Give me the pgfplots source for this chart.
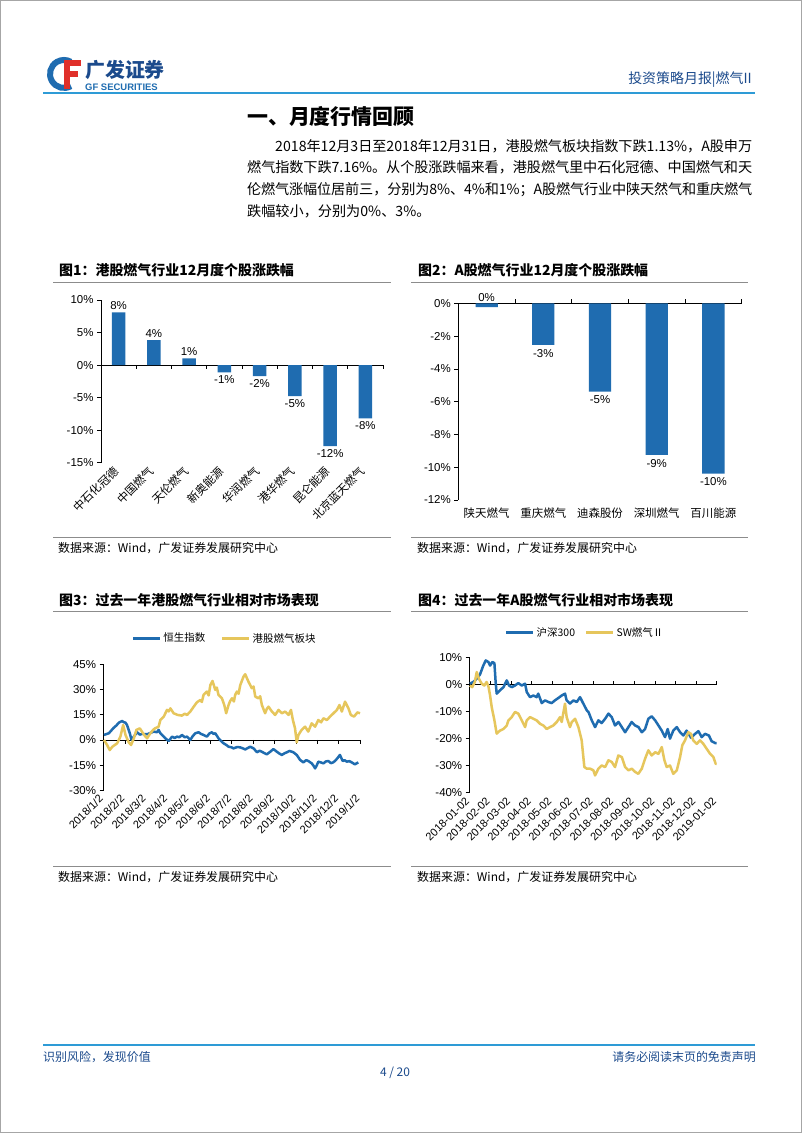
\documentclass[border=0pt]{standalone}
\usepackage{fontspec}
\usepackage{pgfplots}
\pgfplotsset{compat=1.18}
\setmainfont{Liberation Sans}
\newfontfamily\cjk{Noto Sans CJK SC}
\definecolor{gfblue}{HTML}{1F6CB0}
\definecolor{gfyellow}{HTML}{E6C65C}
\definecolor{navy}{HTML}{1B4A8C}
\definecolor{lineblue}{HTML}{2E9BD6}
\definecolor{rulegray}{HTML}{8C8C8C}
\definecolor{logored}{HTML}{E0302A}
\newcommand\fs[1]{\fontsize{#1}{#1}\selectfont}
\XeTeXlinebreaklocale "zh"
\XeTeXlinebreakskip=0pt plus 1.5pt minus 0.3pt

\pgfplotsset{
  gfbase/.style={
    scale only axis, anchor=south west, clip=false,
    axis line style={draw=none},
    ytick pos=left, xtick pos=bottom,
    tick align=outside, major tick length=4bp,
    tick style={black, line width=0.7bp},
    major x tick style={draw=none},
    yticklabel style={font=\fs{11.5}, text=black},
  },
}

\begin{document}
\begin{tikzpicture}
\begin{scope}[x=1bp,y=-1bp]
\useasboundingbox (0,0) rectangle (802,1133);
\fill[white] (0,0) rectangle (802,1133);
\draw[gray!70, line width=1bp] (0.5,0.5) rectangle (801.5,1132.5);
% logo
\draw[gfblue, line width=6bp] (71,86.1) arc[start angle=60, end angle=300, radius=14];
\fill[logored] (64,60) rectangle (81,66);
\fill[logored] (64,71) rectangle (78,77);
\fill[logored] (64,60) rectangle (70,89);
\node[anchor=west, inner sep=0, text=navy] at (85,70) {\cjk\bfseries\fs{20}广发证券};
\node[anchor=west, inner sep=0, text=gfblue] at (85,87) {\bfseries\fs{9.5}GF SECURITIES};
\node[anchor=east, inner sep=0, text=navy] at (752,80) {\cjk\fs{14}投资策略月报|燃气II};
\draw[lineblue, line width=2bp] (43,93) -- (755,93);
% heading
\node[anchor=west, inner sep=0] at (247,117) {\cjk\bfseries\fs{21}一、月度行情回顾};
\node[anchor=north west, inner sep=0, text width=505bp, align=justify,
  font=\cjk\fontsize{14.2}{21.7}\selectfont] at (247,139)
{\hspace*{28bp}2018年12月3日至2018年12月31日，港股燃气板块指数下跌1.13\%，A股申万\linebreak
燃气指数下跌7.16\%。从个股涨跌幅来看，港股燃气里中石化冠德、中国燃气和天\linebreak
伦燃气涨幅位居前三，分别为8\%、4\%和1\%；A股燃气行业中陕天然气和重庆燃气\linebreak
跌幅较小，分别为0\%、3\%。\par};
% chart titles
\node[anchor=west, inner sep=0] at (59,270) {\cjk\bfseries\fs{14}图1：港股燃气行业12月度个股涨跌幅};
\node[anchor=west, inner sep=0] at (418,270) {\cjk\bfseries\fs{14}图2：A股燃气行业12月度个股涨跌幅};
\draw[rulegray, line width=1bp] (53,282) -- (391,282);
\draw[rulegray, line width=1bp] (411,282) -- (748,282);
\draw[rulegray, line width=1bp] (53,537) -- (391,537);
\draw[rulegray, line width=1bp] (411,537) -- (748,537);
\node[anchor=west, inner sep=0] at (58,548) {\cjk\fs{12}数据来源：Wind，广发证券发展研究中心};
\node[anchor=west, inner sep=0] at (417,548) {\cjk\fs{12}数据来源：Wind，广发证券发展研究中心};
\node[anchor=west, inner sep=0] at (59,600) {\cjk\bfseries\fs{14}图3：过去一年港股燃气行业相对市场表现};
\node[anchor=west, inner sep=0] at (418,600) {\cjk\bfseries\fs{14}图4：过去一年A股燃气行业相对市场表现};
\draw[rulegray, line width=1bp] (53,611) -- (391,611);
\draw[rulegray, line width=1bp] (411,611) -- (748,611);
\draw[rulegray, line width=1bp] (53,866) -- (391,866);
\draw[rulegray, line width=1bp] (411,866) -- (748,866);
\node[anchor=west, inner sep=0] at (58,877) {\cjk\fs{12}数据来源：Wind，广发证券发展研究中心};
\node[anchor=west, inner sep=0] at (417,877) {\cjk\fs{12}数据来源：Wind，广发证券发展研究中心};
% footer
\draw[lineblue, line width=1.5bp] (43,1045) -- (755,1045);
\node[anchor=west, inner sep=0, text=navy] at (43,1057) {\cjk\fs{12}识别风险，发现价值};
\node[anchor=east, inner sep=0, text=navy] at (756,1057) {\cjk\fs{12}请务必阅读末页的免责声明};
\node[inner sep=0, text=navy] at (395,1073) {\cjk\fs{12}4 / 20};
\end{scope}

% ---------- Chart 1 ----------
\begin{axis}[gfbase,
  at={(101bp,-462.7bp)}, width=282bp, height=162.7bp,
  xmin=-0.5, xmax=7.5, ymin=-15, ymax=10,
  ytick={-15,-10,-5,0,5,10},
  yticklabels={-15\%,-10\%,-5\%,0\%,5\%,10\%},
  xtick={0,...,7},
  xticklabels={中石化冠德,中国燃气,天伦燃气,新奥能源,华润燃气,港华燃气,昆仑能源,北京蓝天燃气},
  xticklabel style={font=\cjk\fs{11.5}, rotate=45, anchor=east, text=black},
]
\draw[black, line width=0.7bp] (axis cs:-0.5,-15) -- (axis cs:-0.5,10);
\draw[black, line width=0.7bp] (axis cs:-0.5,0) -- (axis cs:7.5,0);
\pgfplotsinvokeforeach{0.5,1.5,2.5,3.5,4.5,5.5,6.5,7.5}{\draw[black, line width=0.7bp] (axis cs:#1,0) -- ([yshift=-4bp]axis cs:#1,0);}
\addplot[ybar, bar width=13.3bp, fill=gfblue, draw=none,
  nodes near coords={\pgfplotspointmeta\%},
  point meta=explicit symbolic,
  nodes near coords style={font=\fs{11.5}, text=black, anchor=south, inner sep=2.5bp}]
  table[x=x, y=y, meta=l] {
x y l
0 8.1 8
1 3.85 4
2 1.03 1
};
\addplot[ybar, bar width=13.3bp, fill=gfblue, draw=none,
  nodes near coords={\pgfplotspointmeta\%},
  point meta=explicit symbolic,
  nodes near coords style={font=\fs{11.5}, text=black, anchor=north, inner sep=3bp}]
  table[x=x, y=y, meta=l] {
x y l
3 -1.13 -1
4 -1.7 -2
5 -4.77 -5
6 -12.46 -12
7 -8.2 -8
};
\end{axis}

% ---------- Chart 2 ----------
\begin{axis}[gfbase,
  at={(458.3bp,-500bp)}, width=283.4bp, height=196.7bp,
  xmin=-0.5, xmax=4.5, ymin=-12, ymax=0,
  ytick={-12,-10,-8,-6,-4,-2,0},
  yticklabels={-12\%,-10\%,-8\%,-6\%,-4\%,-2\%,0\%},
  xtick={0,...,4},
  xticklabels={陕天燃气,重庆燃气,迪森股份,深圳燃气,百川能源},
  xticklabel style={font=\cjk\fs{11.5}, anchor=north, text=black},
]
\draw[black, line width=0.7bp] (axis cs:-0.5,-12) -- (axis cs:-0.5,0);
\draw[black, line width=0.7bp] (axis cs:-0.5,0) -- (axis cs:4.5,0);
\pgfplotsinvokeforeach{0.5,1.5,2.5,3.5,4.5}{\draw[black, line width=0.7bp] (axis cs:#1,0) -- ([yshift=4bp]axis cs:#1,0);}
\addplot[ybar, bar width=22.3bp, fill=gfblue, draw=none,
  nodes near coords={\pgfplotspointmeta},
  point meta=explicit symbolic,
  nodes near coords style={font=\fs{11.5}, text=black, anchor=north, inner sep=4bp}]
  table[x=x, y=y, meta=l] {
x y l
0 -0.24 {}
1 -2.54 -3\%
2 -5.39 -5\%
3 -9.25 -9\%
4 -10.39 -10\%
};
\node[anchor=south, font=\fs{11.5}, inner sep=2pt] at (axis cs:0,0) {0\%};
\end{axis}

% ---------- Chart 3 ----------
\begin{axis}[gfbase,
  at={(103.5bp,-790.4bp)}, width=256.5bp, height=126.1bp,
  xmin=0, xmax=12, ymin=-30, ymax=45,
  ytick={-30,-15,0,15,30,45},
  yticklabels={-30\%,-15\%,0\%,15\%,30\%,45\%},
  xtick={0,...,12},
  xticklabels={2018/1/2,2018/2/2,2018/3/2,2018/4/2,2018/5/2,2018/6/2,2018/7/2,2018/8/2,2018/9/2,2018/10/2,2018/11/2,2018/12/2,2019/1/2},
  xticklabel style={font=\fs{11}, rotate=45, anchor=east, text=black},
  legend columns=2,
  legend style={draw=none, fill=none, at={(0.11,1.206)}, anchor=west, font=\cjk\fs{10.5}, inner sep=0pt,
    /tikz/every even column/.append style={column sep=14bp}},
  legend image code/.code={\draw[#1] (0bp,0bp) -- (27bp,0bp);},
]
\draw[black, line width=0.7bp] (axis cs:0,-30) -- (axis cs:0,45);
\draw[black, line width=0.7bp] (axis cs:0,0) -- (axis cs:12,0);
\pgfplotsinvokeforeach{1,2,3,4,5,6,7,8,9,10,11,12}{\draw[black, line width=0.7bp] (axis cs:#1,0) -- ([yshift=-4bp]axis cs:#1,0);}
\addplot[gfblue, line width=2.5bp, line join=round] coordinates {
(0.02,3.0)(0.25,4.0)(0.48,7.3)(0.60,8.6)(0.72,10.3)(0.87,11.3)(0.95,10.6)(1.03,10.3)(1.10,8.9)(1.23,4.0)(1.31,0)(1.42,2.0)(1.57,4.6)(1.70,3.2)(1.81,3.6)(2.04,3.4)(2.20,4.2)(2.35,5.0)(2.50,4.6)(2.58,6.0)(2.66,4.0)(2.78,2.5)(2.89,1.0)(3.05,-0.6)(3.21,2.0)(3.33,1.2)(3.44,2.0)(3.55,1.6)(3.67,3.0)(3.80,1.6)(3.91,2.0)(4.06,0)(4.18,2.4)(4.30,4.0)(4.45,4.6)(4.56,3.6)(4.68,3.0)(4.84,2.0)(4.95,3.8)(5.07,4.6)(5.15,3.6)(5.23,4.0)(5.38,1.0)(5.50,-0.6)(5.62,-2.0)(5.75,-3.0)(5.85,-4.0)(6.00,-4.4)(6.08,-5.0)(6.25,-4.2)(6.40,-4.4)(6.52,-5.0)(6.63,-5.6)(6.75,-4.8)(6.86,-4.0)(7.02,-5)(7.18,-7.3)(7.30,-6.4)(7.41,-7)(7.52,-7.8)(7.64,-8.5)(7.80,-7)(7.95,-5.4)(8.11,-7)(8.22,-8.0)(8.34,-8.9)(8.50,-7.7)(8.60,-7.2)(8.70,-6.5)(8.88,-7.3)(9.04,-8.9)(9.20,-11.9)(9.35,-13.3)(9.48,-12.0)(9.58,-12.5)(9.74,-13.9)(9.82,-15.2)(9.90,-16.9)(9.98,-15.0)(10.05,-12.9)(10.18,-13.4)(10.29,-13.9)(10.40,-12.8)(10.52,-12.5)(10.64,-13.8)(10.75,-13.3)(10.85,-12.2)(10.94,-10.9)(11.06,-8.9)(11.19,-12.5)(11.28,-12.0)(11.38,-12.9)(11.50,-12.6)(11.61,-13.3)(11.76,-14.5)(11.92,-13.3)
};
\addlegendentry{恒生指数}
\addplot[gfyellow, line width=2.5bp, line join=round] coordinates {
(0.02,0)(0.17,-3)(0.29,-6)(0.40,-4.2)(0.48,-3.4)(0.64,-2)(0.79,2)(0.92,8.9)(1.03,3)(1.18,-1.4)(1.29,-3)(1.42,1)(1.54,6)(1.70,6.9)(1.85,4)(1.95,2.2)(2.04,1)(2.19,4)(2.32,6)(2.42,7)(2.58,7.9)(2.66,11.9)(2.82,13.9)(2.97,17.9)(3.05,17.0)(3.13,18.8)(3.28,15.9)(3.47,14.9)(3.67,14.5)(3.80,15.6)(3.91,14.9)(4.06,16.9)(4.22,19.8)(4.37,22.4)(4.53,23.8)(4.60,22.6)(4.68,26.8)(4.84,28.8)(4.92,26.5)(5.0,32.7)(5.10,35.1)(5.23,29.8)(5.30,31.2)(5.38,26.8)(5.54,24.8)(5.65,20.8)(5.74,15.9)(5.85,20.8)(5.92,23.0)(6.01,24.8)(6.10,22.9)(6.16,26.8)(6.24,28.8)(6.32,27.5)(6.40,32.7)(6.55,37.7)(6.63,39.1)(6.78,34.7)(6.94,30.8)(7.02,31.8)(7.10,25.8)(7.25,24.8)(7.33,26.0)(7.41,20.8)(7.56,15.9)(7.64,18.5)(7.72,19.8)(7.88,16.9)(8.03,14.9)(8.19,17.9)(8.34,15.9)(8.50,16.9)(8.66,14.9)(8.77,17.9)(8.86,11.9)(8.96,6.9)(9.04,-1.4)(9.12,3)(9.27,6)(9.43,7.9)(9.58,5)(9.74,9.9)(9.90,7.9)(10.05,11.9)(10.18,10.5)(10.29,12.9)(10.45,11.9)(10.60,13.9)(10.76,15.9)(10.92,17.9)(11.04,20.8)(11.15,16.9)(11.30,22.8)(11.46,18.8)(11.57,14.9)(11.72,13.9)(11.88,16.4)(12.0,15.9)
};
\addlegendentry{港股燃气板块}
\end{axis}

% ---------- Chart 4 ----------
\begin{axis}[gfbase,
  at={(469.7bp,-792.7bp)}, width=247bp, height=135bp,
  xmin=0, xmax=12, ymin=-40, ymax=10,
  ytick={-40,-30,-20,-10,0,10},
  yticklabels={-40\%,-30\%,-20\%,-10\%,0\%,10\%},
  xtick={0,...,12},
  xticklabels={2018-01-02,2018-02-02,2018-03-02,2018-04-02,2018-05-02,2018-06-02,2018-07-02,2018-08-02,2018-09-02,2018-10-02,2018-11-02,2018-12-02,2019-01-02},
  xticklabel style={font=\fs{11}, rotate=45, anchor=east, text=black},
  legend columns=2,
  legend style={draw=none, fill=none, at={(0.143,1.185)}, anchor=west, font=\cjk\fs{10.5}, inner sep=0pt,
    /tikz/every even column/.append style={column sep=8bp}},
  legend image code/.code={\draw[#1] (0bp,0bp) -- (27bp,0bp);},
]
\draw[black, line width=0.7bp] (axis cs:0,-40) -- (axis cs:0,10);
\draw[black, line width=0.7bp] (axis cs:0,0) -- (axis cs:12,0);
\pgfplotsinvokeforeach{1,2,3,4,5,6,7,8,9,10,11,12}{\draw[black, line width=0.7bp] (axis cs:#1,0) -- ([yshift=4bp]axis cs:#1,0);}
\addplot[gfblue, line width=2.5bp, line join=round] coordinates {
(0.01,0.4)(0.17,1)(0.34,2.2)(0.50,3.8)(0.66,7.1)(0.78,9.0)(0.91,8.4)(0.99,7.1)(1.10,8.4)(1.20,8)(1.26,1)(1.31,-3.3)(1.47,-2.1)(1.64,-0.9)(1.80,1.6)(1.91,-0.3)(2.04,-0.9)(2.20,-0.3)(2.36,0.6)(2.53,-0.3)(2.69,0.4)(2.77,-2.7)(2.93,-4.6)(3.09,-4.0)(3.25,-4.6)(3.33,-3.3)(3.50,-6.8)(3.66,-5.8)(3.82,-6.4)(3.98,-6.8)(4.14,-5.8)(4.31,-4.9)(4.47,-4.0)(4.63,-3.3)(4.71,-5.8)(4.87,-7.0)(5.04,-5.8)(5.20,-6.4)(5.36,-4.6)(5.52,-7.0)(5.69,-9.5)(5.77,-10.1)(5.93,-13.2)(6.09,-15.7)(6.25,-13.2)(6.41,-14.2)(6.58,-12.6)(6.74,-10.7)(6.90,-12)(7.06,-15.1)(7.23,-13.8)(7.39,-15.7)(7.55,-17.6)(7.71,-15.7)(7.87,-13.8)(8.04,-15.1)(8.20,-15.7)(8.36,-17.6)(8.52,-16.4)(8.68,-12.6)(8.84,-11.7)(9.01,-13.2)(9.17,-15.1)(9.33,-17)(9.49,-19.4)(9.62,-16.4)(9.73,-20)(9.89,-17)(10.06,-15.7)(10.22,-17.6)(10.38,-18.8)(10.54,-17)(10.75,-19.6)(10.95,-18.2)(11.11,-17.2)(11.27,-19.4)(11.43,-18.2)(11.62,-18.8)(11.75,-20.9)(11.92,-21.6)(12.0,-21.6)
};
\addlegendentry{沪深300}
\addplot[gfyellow, line width=2.5bp, line join=round] coordinates {
(0.01,-0.3)(0.12,-0.9)(0.25,1)(0.34,4.7)(0.45,2.2)(0.58,0.4)(0.71,-0.3)(0.82,1)(0.91,-0.6)(0.99,-4.0)(1.07,-8.3)(1.20,-13.2)(1.31,-18.1)(1.47,-17)(1.64,-16.4)(1.80,-15.1)(1.88,-13.2)(2.04,-12)(2.20,-10.1)(2.36,-10.7)(2.53,-13.2)(2.69,-15.7)(2.77,-13.2)(2.93,-12)(3.09,-12.6)(3.25,-13.2)(3.42,-14.5)(3.58,-15.1)(3.74,-16.4)(3.90,-15.7)(4.06,-15.1)(4.23,-13.8)(4.39,-12)(4.47,-13.8)(4.63,-7.0)(4.71,-12)(4.87,-15.7)(4.96,-13.8)(5.12,-12.6)(5.28,-15.7)(5.44,-20.6)(5.57,-30.5)(5.69,-31.1)(5.85,-31.1)(6.01,-31.7)(6.09,-33.6)(6.25,-31.1)(6.41,-29.9)(6.58,-30.5)(6.74,-28.0)(6.90,-28.6)(7.06,-30.5)(7.22,-26.2)(7.39,-26.8)(7.55,-30.5)(7.71,-31.7)(7.87,-31.1)(8.04,-32.3)(8.19,-33)(8.36,-31.1)(8.52,-27.4)(8.68,-24.3)(8.84,-26.2)(9.01,-25)(9.17,-25.6)(9.33,-23.1)(9.46,-28)(9.57,-30.5)(9.73,-29.9)(9.89,-33)(10.06,-31.7)(10.22,-26.8)(10.33,-22.4)(10.46,-20.6)(10.62,-17.6)(10.75,-18.2)(10.86,-20.6)(11.03,-21.9)(11.19,-20.6)(11.35,-21.9)(11.51,-23.7)(11.68,-25.6)(11.84,-26.8)(11.95,-29.3)(12.0,-29.3)
};
\addlegendentry{SW燃气Ⅱ}
\end{axis}
\end{tikzpicture}
\end{document}
